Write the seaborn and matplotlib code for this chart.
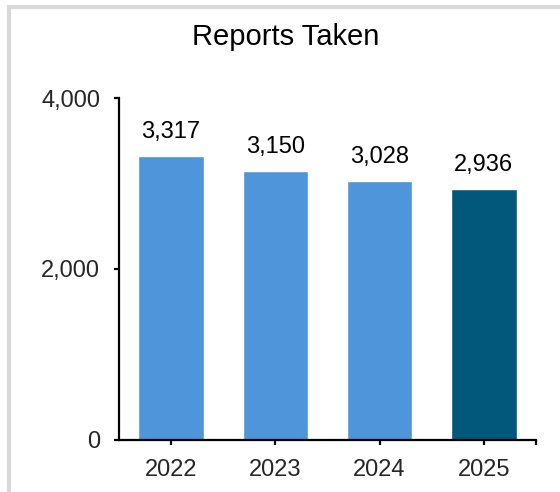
import matplotlib
matplotlib.use("Agg")
import matplotlib.pyplot as plt
from matplotlib.patches import Rectangle
import seaborn as sns
import pandas as pd

years = ["2022", "2023", "2024", "2025"]
reports = [3317, 3150, 3028, 2936]
bar_colors = ["#4F95DA", "#4F95DA", "#4F95DA", "#02587A"]
y_ticks = [0, 2000, 4000]
title = "Reports Taken"

sns.set_theme(style="white")
plt.rcParams["font.family"] = ["Liberation Sans", "DejaVu Sans"]

df = pd.DataFrame({"year": years, "reports": reports})

fig = plt.figure(figsize=(5.6, 4.92), dpi=100)
ax = fig.add_axes([119 / 560, 1 - 440 / 492, (536 - 119) / 560, (440 - 98) / 492])

sns.barplot(data=df, x="year", y="reports", hue="year", palette=bar_colors,
            width=0.63, legend=False, ax=ax, saturation=1)

ax.set_xlim(-0.5, 3.5)
ax.set_ylim(0, 4000)
ax.set_yticks(y_ticks)
ax.set_yticklabels([f"{v:,}" for v in y_ticks])
ax.set_xticks([0, 1, 2, 3, 3.5])
ax.set_xticklabels(years + [""])
ax.set_xlabel("")
ax.set_ylabel("")

for side in ("top", "right"):
    ax.spines[side].set_visible(False)
for side in ("left", "bottom"):
    ax.spines[side].set_color("black")
    ax.spines[side].set_linewidth(1.6)

ax.tick_params(axis="y", which="major", direction="out", length=3.5, width=1.6,
               color="black", labelsize=17, pad=10, left=True)
ax.tick_params(axis="x", which="major", direction="out", length=3.5, width=1.6,
               color="black", labelsize=17, pad=10, bottom=True)

for i, v in enumerate(reports):
    ax.annotate(f"{v:,}", xy=(i, v), xytext=(0, 13), textcoords="offset points",
                ha="center", va="baseline", fontsize=17, color="black")

fig.text(285.5 / 560, 1 - 45 / 492, title, ha="center", va="baseline",
         fontsize=21, color="black")

# light grey chart-area frame
fig.patches.append(Rectangle((9 / 560, -0.2), 1.2, 1.2 - 7 / 492,
                             transform=fig.transFigure, fill=False,
                             edgecolor="#D9D9D9", linewidth=3))

fig.savefig("out.png", dpi=100)
